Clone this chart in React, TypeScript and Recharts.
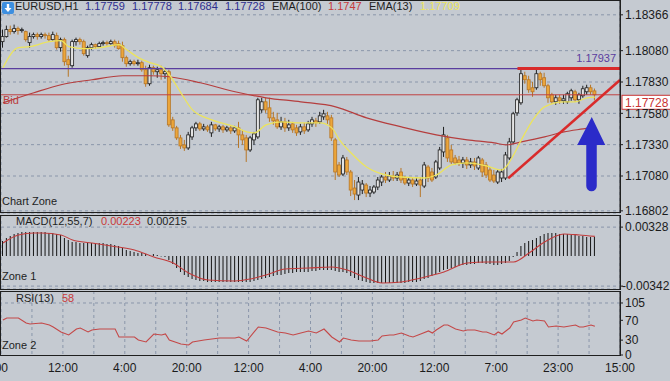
import React from 'react';
import { ComposedChart, Bar, Line, XAxis, YAxis, CartesianGrid, ReferenceLine, ReferenceDot } from 'recharts';

const FONT = '"Liberation Sans", Arial, Helvetica, sans-serif';

// ---- price candles (EURUSD H1) ----
const opens = [1.18152,1.18192,1.18248,1.18232,1.18256,1.18240,1.18232,1.18144,1.18192,1.18208,1.18192,1.18208,1.18200,1.18168,1.18200,1.18104,1.18168,1.18008,1.17960,1.18152,1.18168,1.18152,1.18040,1.18104,1.18128,1.18112,1.18136,1.18144,1.18136,1.18152,1.18136,1.18120,1.18024,1.17976,1.17992,1.17976,1.17984,1.17928,1.17816,1.17944,1.17912,1.17928,1.17896,1.17912,1.17528,1.17464,1.17384,1.17328,1.17304,1.17392,1.17464,1.17496,1.17456,1.17472,1.17424,1.17488,1.17456,1.17472,1.17448,1.17464,1.17440,1.17464,1.17408,1.17384,1.17288,1.17368,1.17392,1.17608,1.17672,1.17624,1.17544,1.17528,1.17472,1.17512,1.17464,1.17496,1.17464,1.17432,1.17472,1.17448,1.17496,1.17520,1.17512,1.17552,1.17560,1.17544,1.17368,1.17168,1.17096,1.17208,1.17112,1.16984,1.16928,1.16968,1.17008,1.16944,1.16952,1.16992,1.17032,1.17072,1.17048,1.17080,1.17064,1.17112,1.17064,1.17024,1.17048,1.17016,1.17048,1.17000,1.17152,1.17112,1.17072,1.17144,1.17272,1.17384,1.17288,1.17224,1.17208,1.17184,1.17208,1.17168,1.17192,1.17144,1.17208,1.17168,1.17128,1.17088,1.17032,1.17064,1.17064,1.17224,1.17352,1.17584,1.17664,1.17880,1.17848,1.17784,1.17784,1.17896,1.17864,1.17800,1.17728,1.17672,1.17704,1.17680,1.17672,1.17704,1.17752,1.17688,1.17720,1.17752,1.17784,1.17759];
const highs = [1.18248,1.18280,1.18280,1.18288,1.18272,1.18264,1.18240,1.18224,1.18224,1.18224,1.18224,1.18224,1.18224,1.18232,1.18224,1.18184,1.18184,1.18040,1.18168,1.18184,1.18184,1.18168,1.18120,1.18144,1.18136,1.18152,1.18160,1.18160,1.18168,1.18168,1.18160,1.18152,1.18040,1.18008,1.18008,1.18008,1.18000,1.17960,1.17968,1.17960,1.17952,1.17960,1.17944,1.17928,1.17552,1.17480,1.17408,1.17368,1.17432,1.17480,1.17512,1.17512,1.17496,1.17488,1.17512,1.17496,1.17488,1.17488,1.17480,1.17480,1.17480,1.17512,1.17448,1.17408,1.17400,1.17432,1.17704,1.17704,1.17704,1.17704,1.17592,1.17584,1.17552,1.17544,1.17528,1.17512,1.17488,1.17496,1.17504,1.17520,1.17552,1.17544,1.17592,1.17608,1.17592,1.17568,1.17384,1.17192,1.17248,1.17232,1.17128,1.17048,1.17072,1.17048,1.17024,1.17000,1.17008,1.17072,1.17088,1.17112,1.17112,1.17120,1.17112,1.17144,1.17080,1.17072,1.17064,1.17064,1.17072,1.17192,1.17168,1.17144,1.17208,1.17312,1.17472,1.17408,1.17328,1.17248,1.17240,1.17232,1.17232,1.17224,1.17224,1.17240,1.17224,1.17192,1.17152,1.17128,1.17128,1.17136,1.17272,1.17384,1.17592,1.17704,1.17928,1.17912,1.17880,1.17832,1.17944,1.17912,1.17904,1.17816,1.17744,1.17728,1.17728,1.17728,1.17752,1.17776,1.17768,1.17744,1.17800,1.17808,1.17808,1.17778];
const lows = [1.18104,1.18184,1.18208,1.18216,1.18208,1.18224,1.18152,1.18104,1.18176,1.18168,1.18176,1.18176,1.18152,1.18160,1.18088,1.18072,1.17960,1.17872,1.17944,1.18120,1.18128,1.18040,1.18024,1.18088,1.18096,1.18104,1.18120,1.18120,1.18128,1.18104,1.18088,1.17992,1.17952,1.17960,1.17960,1.17960,1.17912,1.17792,1.17800,1.17888,1.17864,1.17848,1.17856,1.17472,1.17440,1.17368,1.17296,1.17280,1.17288,1.17368,1.17440,1.17440,1.17440,1.17432,1.17392,1.17440,1.17432,1.17424,1.17432,1.17416,1.17424,1.17304,1.17328,1.17192,1.17272,1.17328,1.17376,1.17584,1.17584,1.17512,1.17488,1.17456,1.17448,1.17432,1.17440,1.17424,1.17400,1.17408,1.17416,1.17432,1.17472,1.17472,1.17496,1.17528,1.17496,1.17360,1.17048,1.17072,1.17080,1.17088,1.16920,1.16888,1.16888,1.16936,1.16912,1.16912,1.16936,1.16968,1.17000,1.17024,1.17032,1.17040,1.17040,1.17024,1.17008,1.17000,1.16992,1.17000,1.16912,1.16984,1.17032,1.17032,1.17056,1.17128,1.17232,1.17192,1.17176,1.17168,1.17160,1.17144,1.17136,1.17144,1.17128,1.17128,1.17072,1.17064,1.17032,1.17024,1.17016,1.17032,1.17048,1.17208,1.17336,1.17560,1.17648,1.17816,1.17744,1.17712,1.17768,1.17800,1.17784,1.17664,1.17656,1.17648,1.17656,1.17656,1.17656,1.17680,1.17672,1.17656,1.17704,1.17728,1.17728,1.17684];
const closes = [1.18192,1.18248,1.18232,1.18256,1.18240,1.18248,1.18168,1.18192,1.18208,1.18192,1.18208,1.18200,1.18168,1.18208,1.18104,1.18168,1.17992,1.17968,1.18152,1.18168,1.18152,1.18056,1.18104,1.18128,1.18112,1.18136,1.18144,1.18136,1.18152,1.18120,1.18096,1.18024,1.17976,1.17992,1.17976,1.17984,1.17928,1.17816,1.17944,1.17912,1.17928,1.17896,1.17912,1.17488,1.17464,1.17384,1.17320,1.17304,1.17408,1.17464,1.17496,1.17456,1.17472,1.17448,1.17488,1.17456,1.17472,1.17448,1.17464,1.17440,1.17464,1.17408,1.17368,1.17288,1.17384,1.17416,1.17688,1.17672,1.17608,1.17544,1.17520,1.17472,1.17512,1.17464,1.17488,1.17448,1.17424,1.17472,1.17440,1.17496,1.17528,1.17504,1.17560,1.17576,1.17528,1.17384,1.17112,1.17088,1.17224,1.17112,1.16968,1.16936,1.17032,1.17016,1.16944,1.16968,1.16992,1.17048,1.17072,1.17048,1.17080,1.17064,1.17088,1.17048,1.17024,1.17048,1.17016,1.17040,1.17008,1.17168,1.17064,1.17048,1.17192,1.17288,1.17408,1.17224,1.17192,1.17184,1.17184,1.17208,1.17168,1.17192,1.17160,1.17224,1.17112,1.17088,1.17048,1.17040,1.17112,1.17112,1.17248,1.17352,1.17576,1.17688,1.17896,1.17848,1.17768,1.17752,1.17896,1.17848,1.17800,1.17704,1.17672,1.17704,1.17680,1.17696,1.17736,1.17760,1.17688,1.17728,1.17776,1.17784,1.17752,1.17728];

// ---- moving averages (read at sample bars) ----
const ema13Pts: [number, number][] = [[0,1.17944],[4,1.18104],[7,1.18112],[12,1.18152],[15,1.18160],[17,1.18112],[21,1.18096],[25,1.18104],[30,1.18128],[32,1.18088],[35,1.18024],[38,1.17984],[41,1.17952],[43,1.17888],[46,1.17744],[49,1.17608],[54,1.17528],[60,1.17472],[63,1.17432],[65,1.17424],[68,1.17488],[72,1.17512],[77,1.17504],[82,1.17504],[85,1.17464],[87,1.17368],[90,1.17264],[94,1.17152],[99,1.17088],[103,1.17072],[109,1.17064],[112,1.17088],[116,1.17168],[120,1.17184],[125,1.17160],[129,1.17128],[130,1.17152],[132,1.17248],[134,1.17368],[137,1.17528],[140,1.17632],[145,1.17672],[148,1.17672],[151,1.17704],[153,1.17709]];
const ema100Pts: [number, number][] = [[0,1.17664],[8,1.17744],[15,1.17808],[23,1.17848],[31,1.17880],[38,1.17880],[43,1.17872],[51,1.17824],[60,1.17752],[68,1.17704],[77,1.17672],[86,1.17632],[94,1.17544],[103,1.17472],[112,1.17408],[120,1.17368],[127,1.17344],[130,1.17328],[134,1.17352],[140,1.17392],[145,1.17432],[150,1.17456],[153,1.17470]];

// ---- MACD(12,55,7) ----
const macdHist = [0.00170,0.00204,0.00227,0.00250,0.00261,0.00273,0.00273,0.00273,0.00273,0.00273,0.00273,0.00273,0.00261,0.00261,0.00250,0.00239,0.00204,0.00182,0.00159,0.00159,0.00148,0.00148,0.00148,0.00148,0.00148,0.00148,0.00148,0.00136,0.00136,0.00125,0.00114,0.00091,0.00068,0.00057,0.00045,0.00034,0.00034,0.00023,0.00011,0.00023,0.00011,-0.00005,-0.00011,-0.00045,-0.00091,-0.00136,-0.00182,-0.00216,-0.00239,-0.00261,-0.00273,-0.00284,-0.00284,-0.00295,-0.00295,-0.00295,-0.00295,-0.00295,-0.00295,-0.00295,-0.00295,-0.00295,-0.00295,-0.00295,-0.00295,-0.00284,-0.00273,-0.00261,-0.00250,-0.00239,-0.00227,-0.00216,-0.00216,-0.00204,-0.00193,-0.00193,-0.00182,-0.00182,-0.00182,-0.00182,-0.00170,-0.00170,-0.00159,-0.00159,-0.00159,-0.00159,-0.00170,-0.00182,-0.00182,-0.00193,-0.00227,-0.00250,-0.00273,-0.00284,-0.00295,-0.00307,-0.00307,-0.00307,-0.00307,-0.00307,-0.00307,-0.00307,-0.00307,-0.00307,-0.00307,-0.00295,-0.00295,-0.00295,-0.00284,-0.00261,-0.00250,-0.00227,-0.00204,-0.00182,-0.00159,-0.00148,-0.00136,-0.00125,-0.00114,-0.00102,-0.00102,-0.00091,-0.00091,-0.00080,-0.00080,-0.00091,-0.00091,-0.00102,-0.00102,-0.00091,-0.00080,-0.00057,-0.00011,0.00045,0.00114,0.00148,0.00170,0.00182,0.00204,0.00227,0.00250,0.00261,0.00261,0.00261,0.00250,0.00250,0.00250,0.00239,0.00239,0.00227,0.00227,0.00216,0.00216,0.00215];
const macdSignalPts: [number, number][] = [[0,0.00148],[4,0.00239],[8,0.00261],[10,0.00261],[15,0.00239],[18,0.00182],[23,0.00148],[28,0.00114],[34,0.00068],[39,-0.00011],[44,-0.00080],[48,-0.00193],[53,-0.00273],[60,-0.00284],[64,-0.00261],[68,-0.00216],[73,-0.00148],[79,-0.00136],[85,-0.00125],[89,-0.00159],[94,-0.00250],[98,-0.00307],[103,-0.00295],[108,-0.00250],[114,-0.00182],[120,-0.00080],[125,-0.00068],[132,-0.00068],[136,0.00034],[140,0.00159],[145,0.00250],[149,0.00239],[153,0.00223]];

// ---- RSI(13) ----
const rsiPts: [number, number][] = [[0,70.7],[1,74.7],[4,74.7],[6,64.6],[7,62.6],[10,64.6],[12,60.6],[13,56.6],[15,46.5],[17,40.4],[19,52.5],[20,54.5],[22,46.5],[23,50.5],[25,52.5],[29,52.5],[30,36.4],[32,36.4],[34,36.4],[35,30.3],[37,26.3],[39,42.4],[41,40.4],[42,42.4],[43,30.3],[46,22.2],[48,20.2],[49,26.3],[52,30.3],[54,32.3],[56,34.3],[60,34.3],[61,36.4],[63,28.3],[66,56.6],[68,54.5],[71,46.5],[73,44.4],[75,40.4],[77,44.4],[79,48.5],[81,44.4],[83,52.5],[85,36.4],[87,26.3],[88,34.3],[90,30.3],[92,28.3],[95,28.3],[97,30.3],[98,38.4],[100,40.4],[101,40.4],[103,44.4],[105,38.4],[106,36.4],[108,42.4],[110,48.5],[111,44.4],[112,50.5],[114,60.6],[115,60.6],[117,52.5],[119,48.5],[120,50.5],[122,50.5],[124,46.5],[125,46.5],[127,40.4],[128,46.5],[129,42.4],[131,54.5],[132,66.7],[134,70.7],[135,74.7],[137,68.7],[138,70.7],[140,68.7],[141,56.6],[143,58.6],[145,56.6],[148,60.6],[149,56.6],[150,56.6],[152,60.6],[153,58]];

// ---- axes / labels ----
const priceTicks = [1.16802, 1.1708, 1.1733, 1.1758, 1.1783, 1.1808, 1.18366];
const macdTicks = [-0.00342, 0.00328];
const rsiTicks = [0, 30, 70, 105];
const timeLabels = ['20:00', '12:00', '4:00', '20:00', '12:00', '4:00', '20:00', '12:00', '7:00', '23:00', '15:00'];
const gridTicks = [0, 8, 16, 24, 32, 40, 48, 56, 64, 72, 80, 88, 96, 104, 112, 120, 128, 136, 144, 152, 160];
const SLOTS = 160;

const resistance = 1.17937;
const lastPrice = 1.17728;
const resistanceStartBar = 133.5;
const trendStart = { bar: 131.1, price: 1.17062 };
const trendEnd = { bar: 160, price: 1.17846 };
const arrowTip = { bar: 152.7, price: 1.1755 };

const PRICE_DOMAIN: [number, number] = [1.167848, 1.184843];
const MACD_DOMAIN: [number, number] = [-0.003747, 0.004656];
const RSI_DOMAIN: [number, number] = [0, 129.2];

const GRID = '#8a96aa';
const BG = '#c5cad1';

const m13 = new Map(ema13Pts);
const m100 = new Map(ema100Pts);
const mSig = new Map(macdSignalPts);
const mRsi = new Map(rsiPts);

const rows = closes.map((c, i) => ({
  x: i + 0.5,
  o: opens[i],
  h: highs[i],
  l: lows[i],
  c,
  range: [lows[i], highs[i]],
  ema13: m13.has(i) ? m13.get(i) : null,
  ema100: m100.has(i) ? m100.get(i) : null,
  macd: macdHist[i],
  sig: mSig.has(i) ? mSig.get(i) : null,
  rsi: mRsi.has(i) ? mRsi.get(i) : null,
}));

const Candle = (props: any) => {
  const { x, y, width, height, payload } = props;
  if (!payload || x == null || y == null) return <g />;
  const top = Math.min(y, y + height);
  const hh = Math.abs(height);
  const span = payload.h - payload.l || 1e-9;
  const py = (v: number) => top + ((payload.h - v) / span) * hh;
  const cx = x + width / 2;
  const bull = payload.c >= payload.o;
  const yo = py(payload.o);
  const yc = py(payload.c);
  const bTop = Math.min(yo, yc);
  const bH = Math.max(1, Math.abs(yo - yc));
  const edge = bull ? '#1e1e1e' : '#b77626';
  return (
    <g>
      <line x1={cx} x2={cx} y1={top} y2={top + hh} stroke={edge} strokeWidth={1} />
      <rect x={x} y={bTop} width={width} height={bH} fill={bull ? '#e4e4e4' : '#eca63a'} stroke={edge} strokeWidth={0.8} />
    </g>
  );
};

const PriceTag = (props: any) => {
  const vb = props.viewBox;
  if (!vb) return null;
  const x = vb.x + vb.width + 2;
  const y = vb.y;
  return (
    <g>
      <rect x={x} y={y + 0.5} width={50} height={14} fill="#ffffff" stroke="#c93434" strokeWidth={1} />
      <text x={x + 3} y={y + 12} fill="#c93434" fontSize={12} fontFamily={FONT}>{props.price.toFixed(5)}</text>
    </g>
  );
};

const ArrowMark = (props: any) => {
  const { cx, cy } = props;
  if (cx == null || cy == null) return <g />;
  const d = `M${cx},${cy} L${cx + 13.5},${cy + 28} L${cx + 5},${cy + 28} L${cx + 5},${cy + 69} A5,5 0 0 1 ${cx - 5.5},${cy + 69} L${cx - 5.5},${cy + 28} L${cx - 14.5},${cy + 28} Z`;
  return <path d={d} fill="#2b2bc9" />;
};

const TimeTick = (p: any) => {
  const v = p.payload?.value;
  if (v == null || v % 16 !== 0) return <g />;
  const label = timeLabels[v / 16];
  return (
    <text x={p.x + (v === 0 ? -8 : 0)} y={p.y} dy={9} textAnchor="middle" fontSize={12} fill="#1b1b1b" fontFamily={FONT}>
      {label}
    </text>
  );
};

const MacdTick = (p: any) => {
  const v = p.payload?.value;
  if (v == null) return <g />;
  return (
    <text x={p.x + (v < 0 ? -3 : 0)} y={p.y} dy={4} textAnchor="start" fontSize={12} fill="#1b1b1b" fontFamily={FONT}>
      {v.toFixed(5)}
    </text>
  );
};

const axisTick = { fontSize: 12, fill: '#1b1b1b', fontFamily: FONT };

const T = ({ left, top, color = '#1e1e1e', children, right }: any) => (
  <div
    style={{
      position: 'absolute',
      left,
      right,
      top,
      fontSize: 11,
      lineHeight: '13px',
      color,
      fontFamily: FONT,
      whiteSpace: 'nowrap',
      pointerEvents: 'none',
    }}
  >
    {children}
  </div>
);

const Frame = ({ top, height }: any) => (
  <div
    style={{
      position: 'absolute',
      left: 0,
      top,
      width: 621,
      height,
      border: '1px solid #1f1f1f',
      boxSizing: 'border-box',
      pointerEvents: 'none',
    }}
  />
);

export default function App() {
  return (
    <div style={{ position: 'absolute', left: 0, top: 0, width: 670, height: 381, background: BG, overflow: 'hidden', fontFamily: FONT }}>
      {/* main price panel */}
      <div style={{ position: 'absolute', left: 0, top: 0 }}>
        <ComposedChart width={670} height={220} data={rows} margin={{ top: 0, right: 0, bottom: 7, left: 1 }}>
          <CartesianGrid stroke={GRID} strokeDasharray="3 3" />
          <XAxis type="number" dataKey="x" domain={[0, SLOTS]} ticks={gridTicks} height={0} tick={false} axisLine={false} tickLine={false} allowDataOverflow />
          <YAxis
            orientation="right"
            width={50}
            type="number"
            domain={PRICE_DOMAIN}
            ticks={priceTicks}
            interval={0}
            allowDataOverflow
            tickFormatter={(v: number) => v.toFixed(5)}
            tick={axisTick}
            tickSize={3}
            tickMargin={2}
            axisLine={{ stroke: '#1f1f1f' }}
            tickLine={{ stroke: '#1f1f1f' }}
          />
          <ReferenceLine y={resistance} stroke="#5a3d9f" strokeWidth={1.2} />
          <ReferenceLine y={lastPrice} stroke="#bf4242" strokeWidth={1} label={<PriceTag price={lastPrice} />} />
          <Line dataKey="ema100" stroke="#b53e3e" strokeWidth={1.2} dot={false} connectNulls type="monotone" isAnimationActive={false} />
          <Bar dataKey="range" barSize={3} shape={(p: any) => <Candle {...p} />} isAnimationActive={false} />
          <Line dataKey="ema13" stroke="#ece45c" strokeWidth={1.3} dot={false} connectNulls type="monotone" isAnimationActive={false} />
          <ReferenceLine
            segment={[{ x: resistanceStartBar, y: resistance }, { x: SLOTS, y: resistance }]}
            stroke="#d92b2b"
            strokeWidth={3}
            ifOverflow="visible"
          />
          <ReferenceLine
            segment={[{ x: trendStart.bar, y: trendStart.price }, { x: trendEnd.bar, y: trendEnd.price }]}
            stroke="#d92b2b"
            strokeWidth={2.5}
            ifOverflow="visible"
          />
          <ReferenceDot x={arrowTip.bar} y={arrowTip.price} r={1} ifOverflow="visible" shape={(p: any) => <ArrowMark {...p} />} />
        </ComposedChart>
      </div>

      {/* MACD panel */}
      <div style={{ position: 'absolute', left: 0, top: 215 }}>
        <ComposedChart width={670} height={80} data={rows} margin={{ top: 0, right: 0, bottom: 6, left: 1 }}>
          <CartesianGrid stroke={GRID} strokeDasharray="3 3" />
          <XAxis type="number" dataKey="x" domain={[0, SLOTS]} ticks={gridTicks} height={0} tick={false} axisLine={false} tickLine={false} allowDataOverflow />
          <YAxis
            orientation="right"
            width={50}
            type="number"
            domain={MACD_DOMAIN}
            ticks={macdTicks}
            interval={0}
            allowDataOverflow
            tick={(p: any) => <MacdTick {...p} />}
            tickSize={3}
            tickMargin={2}
            axisLine={{ stroke: '#1f1f1f' }}
            tickLine={{ stroke: '#1f1f1f' }}
          />
          <Bar dataKey="macd" barSize={1} fill="#151515" isAnimationActive={false} />
          <Line dataKey="sig" stroke="#c23c3c" strokeWidth={1.1} dot={false} connectNulls type="monotone" isAnimationActive={false} />
        </ComposedChart>
      </div>

      {/* RSI panel */}
      <div style={{ position: 'absolute', left: 0, top: 291 }}>
        <ComposedChart width={670} height={90} data={rows} margin={{ top: 0, right: 0, bottom: 0, left: 1 }}>
          <CartesianGrid stroke={GRID} strokeDasharray="3 3" horizontal={false} />
          <XAxis
            type="number"
            dataKey="x"
            domain={[0, SLOTS]}
            ticks={gridTicks}
            interval={0}
            height={26}
            tick={(p: any) => <TimeTick {...p} />}
            tickSize={0}
            tickMargin={8}
            axisLine={false}
            tickLine={false}
            allowDataOverflow
          />
          <YAxis
            orientation="right"
            width={50}
            type="number"
            domain={RSI_DOMAIN}
            ticks={rsiTicks}
            interval={0}
            allowDataOverflow
            tick={axisTick}
            tickSize={3}
            tickMargin={2}
            axisLine={{ stroke: '#1f1f1f' }}
            tickLine={{ stroke: '#1f1f1f' }}
          />
          <ReferenceLine y={105} stroke={GRID} strokeDasharray="3 3" />
          <Line dataKey="rsi" stroke="#c44848" strokeWidth={1.1} dot={false} connectNulls type="linear" isAnimationActive={false} />
        </ComposedChart>
      </div>

      {/* panel frames */}
      <Frame top={0} height={213} />
      <Frame top={215} height={75} />
      <Frame top={291} height={65} />

      {/* title bar */}
      <svg style={{ position: 'absolute', left: 2, top: 2 }} width={12} height={12}>
        <rect x={0} y={0} width={12} height={12} rx={2} fill="#3d8fe0" />
        <path d="M6,10 L2.5,6 L4.8,6 L4.8,2 L7.2,2 L7.2,6 L9.5,6 Z" fill="#ffffff" />
      </svg>
      <T left={15} top={0}>EURUSD,H1</T>
      <T left={85} top={0} color="#2d2d8f">1.17759</T>
      <T left={132} top={0} color="#2d2d8f">1.17778</T>
      <T left={178} top={0} color="#2d2d8f">1.17684</T>
      <T left={225} top={0} color="#2d2d8f">1.17728</T>
      <T left={272} top={0}>EMA(100)</T>
      <T left={328} top={0} color="#c83a3a">1.1747</T>
      <T left={369} top={0}>EMA(13)</T>
      <T left={420} top={0} color="#eee65a">1.17709</T>

      <T right={54} top={52} color="#5a3d9f">1.17937</T>
      <T left={3} top={94} color="#bb3c3c">Bid</T>
      <T left={2} top={195}>Chart Zone</T>

      <T left={16} top={215}>MACD(12,55,7)</T>
      <T left={101} top={215} color="#c83a3a">0.00223</T>
      <T left={147} top={215}>0.00215</T>
      <T left={2} top={270}>Zone 1</T>

      <T left={16} top={292}>RSI(13)</T>
      <T left={62} top={292} color="#c83a3a">58</T>
      <T left={2} top={339}>Zone 2</T>
    </div>
  );
}
